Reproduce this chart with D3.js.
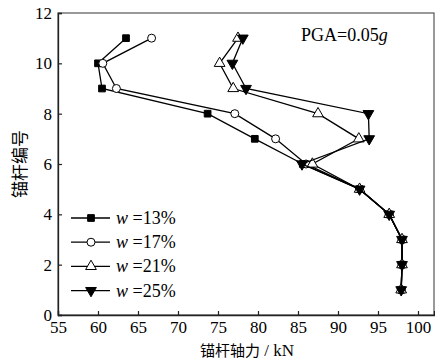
<!DOCTYPE html>
<html>
<head>
<meta charset="utf-8">
<script src="https://cdn.jsdelivr.net/npm/d3@7"></script>
<style>
  body { margin: 0; background: #fff; }
  svg { display: block; }
  .serif { font-family: "Liberation Serif", "Times New Roman", serif; }
  .cjk { font-family: "Noto Sans CJK SC", sans-serif; }
</style>
</head>
<body>
<svg id="chart" width="435" height="362"></svg>
<script>
// Anchor numbers (1..11) and axial forces (kN) for each water content
const anchorNo = [1, 2, 3, 4, 5, 6, 7, 8, 9, 10, 11];
const force13 = [97.9, 98.0, 98.0, 96.4, 92.7, 85.6, 79.6, 73.7, 60.5, 60.0, 63.5];
const force17 = [97.9, 98.0, 98.0, 96.4, 92.7, 86.0, 82.2, 77.1, 62.3, 60.6, 66.7];
const force21 = [97.9, 98.0, 98.0, 96.4, 92.7, 86.8, 92.6, 87.5, 76.9, 75.2, 77.5];
const force25 = [97.9, 98.0, 98.0, 96.4, 92.7, 85.5, 93.9, 93.8, 78.5, 76.8, 78.1];
const seriesNames = ["13%", "17%", "21%", "25%"];
const xTicks = [55, 60, 65, 70, 75, 80, 85, 90, 95, 100];
const yTicks = [0, 2, 4, 6, 8, 10, 12];

const series = [
  { name: seriesNames[0], values: force13, symbol: d3.symbolSquare, fill: "#000" },
  { name: seriesNames[1], values: force17, symbol: d3.symbolCircle, fill: "#fff" },
  { name: seriesNames[2], values: force21, symbol: d3.symbolTriangle, fill: "#fff" },
  { name: seriesNames[3], values: force25, symbol: d3.symbolTriangle, fill: "#000", flip: true }
];

const svg = d3.select("#chart");
const margin = { left: 58, right: 1, top: 13, bottom: 47 };
const W = 435, H = 362;

const x = d3.scaleLinear().domain([55, 102]).range([margin.left, W - margin.right]);
const y = d3.scaleLinear().domain([0, 12]).range([H - margin.bottom, margin.top]);

// frame
svg.append("rect")
  .attr("x", x(55)).attr("y", y(12))
  .attr("width", x(102) - x(55)).attr("height", y(0) - y(12))
  .attr("fill", "none").attr("stroke", "#555").attr("stroke-width", 1.2);

// axes with inward ticks
const xAxis = svg.append("g").attr("transform", `translate(0,${y(0)})`)
  .call(d3.axisBottom(x).tickValues(xTicks).tickSize(-4).tickPadding(6).tickFormat(d3.format("d")));
const yAxis = svg.append("g").attr("transform", `translate(${x(55)},0)`)
  .call(d3.axisLeft(y).tickValues(yTicks).tickSize(-4).tickPadding(6).tickFormat(d3.format("d")));
[xAxis, yAxis].forEach(g => {
  g.attr("font-family", null).attr("font-size", null).attr("class", "serif");
  g.select(".domain").attr("stroke", "#222").attr("stroke-width", 1.3);
  g.selectAll(".tick line").attr("stroke", "#222").attr("stroke-width", 1.2);
  g.selectAll(".tick text").attr("font-size", 17).attr("fill", "#000");
});

// series lines and markers
const line = d3.line().x(d => x(d[0])).y(d => y(d[1]));
series.forEach(s => {
  const pts = s.values.map((v, i) => [v, anchorNo[i]]);
  svg.append("path").datum(pts)
    .attr("d", line).attr("fill", "none").attr("stroke", "#000").attr("stroke-width", 1.3);
  svg.append("g").selectAll("path").data(pts).join("path")
    .attr("d", d3.symbol().type(s.symbol).size(s.symbol === d3.symbolSquare ? 45 : 50))
    .attr("transform", d => `translate(${x(d[0])},${y(d[1])})${s.flip ? " rotate(180)" : ""}`)
    .attr("fill", s.fill).attr("stroke", "#000").attr("stroke-width", 1);
});

// legend
const legend = svg.append("g").attr("class", "serif");
series.forEach((s, i) => {
  const ly = 218 + i * 24.2;
  legend.append("line").attr("x1", 71).attr("x2", 110).attr("y1", ly).attr("y2", ly)
    .attr("stroke", "#000").attr("stroke-width", 1.3);
  legend.append("path")
    .attr("d", d3.symbol().type(s.symbol).size(s.symbol === d3.symbolSquare ? 45 : 50))
    .attr("transform", `translate(91,${ly})${s.flip ? " rotate(180)" : ""}`)
    .attr("fill", s.fill).attr("stroke", "#000").attr("stroke-width", 1);
  const t = legend.append("text").attr("x", 116).attr("y", ly + 6).attr("font-size", 18);
  t.append("tspan").attr("font-style", "italic").text("w");
  t.append("tspan").text(" =" + s.name);
});

// annotation
const ann = svg.append("text").attr("class", "serif").attr("x", 301).attr("y", 41).attr("font-size", 18);
ann.append("tspan").text("PGA=0.05");
ann.append("tspan").attr("font-style", "italic").text("g");

// axis titles
const xt = svg.append("text").attr("x", 247).attr("y", 356).attr("text-anchor", "middle");
xt.append("tspan").attr("class", "cjk").attr("font-size", 15).text("锚杆轴力");
xt.append("tspan").attr("class", "serif").attr("font-size", 17).text(" / kN");
svg.append("text").attr("class", "cjk")
  .attr("transform", `translate(26,${(y(0) + y(12)) / 2}) rotate(-90)`)
  .attr("text-anchor", "middle").attr("font-size", 17)
  .text("锚杆编号");
</script>
</body>
</html>
